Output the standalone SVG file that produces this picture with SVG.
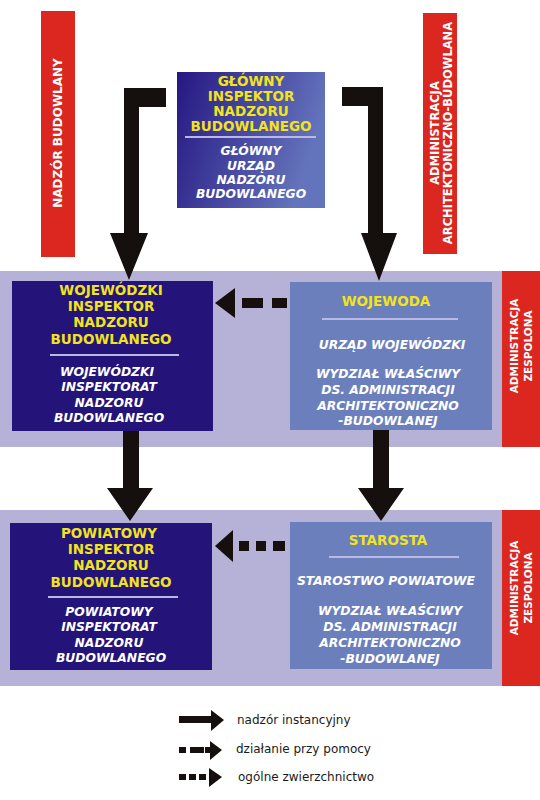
<svg xmlns="http://www.w3.org/2000/svg" width="540" height="800" viewBox="0 0 540 800">
<defs>
<linearGradient id="gin" x1="0" y1="0" x2="1" y2="0.3">
<stop offset="0" stop-color="#261782"/>
<stop offset="1" stop-color="#6474bc"/>
</linearGradient>
<style>
.red{fill:#db2720}
.band{fill:#b6b2d7}
.dark{fill:#24147a}
.mid{fill:#6b7fbd}
.y{font-family:"DejaVu Sans","Verdana",sans-serif;font-weight:bold;font-size:13.5px;fill:#f2e41c;text-anchor:middle}
.w{font-family:"DejaVu Sans","Verdana",sans-serif;font-weight:bold;font-style:italic;font-size:12.3px;fill:#ffffff;text-anchor:middle}
.rt{font-family:"DejaVu Sans","Verdana",sans-serif;font-weight:bold;fill:#ffffff;text-anchor:middle}
.sep{stroke:#b9b9e2;stroke-width:2}
.blk{fill:#15100e}
.leg{font-family:"DejaVu Sans","Verdana",sans-serif;font-size:12px;fill:#1a1a1a}
</style>
</defs>
<rect width="540" height="800" fill="#ffffff"/>

<g id="bands">
<rect class="band" x="0" y="271" width="502" height="176"/>
<rect class="band" x="0" y="510" width="502" height="176"/>
</g>

<g id="label-nadzor">
<rect class="red" x="41" y="11" width="34" height="246"/>
<text class="rt" font-size="12" transform="translate(62,133) rotate(-90)">NADZÓR BUDOWLANY</text>
</g>

<g id="label-aab">
<rect class="red" x="423" y="13" width="34" height="241"/>
<text class="rt" font-size="11.5" transform="translate(439,133) rotate(-90)">ADMINISTRACJA</text>
<text class="rt" font-size="11.5" transform="translate(452,133) rotate(-90)">ARCHITEKTONICZNO-BUDOWLANA</text>
</g>

<g id="label-zesp1">
<rect class="red" x="502" y="271" width="38" height="176"/>
<text class="rt" font-size="10.5" transform="translate(518,346) rotate(-90)">ADMINISTRACJA</text>
<text class="rt" font-size="10.5" transform="translate(532,346) rotate(-90)">ZESPOLONA</text>
</g>

<g id="label-zesp2">
<rect class="red" x="502" y="510" width="38" height="176"/>
<text class="rt" font-size="10.5" transform="translate(518,588) rotate(-90)">ADMINISTRACJA</text>
<text class="rt" font-size="10.5" transform="translate(532,588) rotate(-90)">ZESPOLONA</text>
</g>

<g id="gin">
<rect x="177" y="72" width="148" height="136" fill="url(#gin)"/>
<text class="y" x="251" y="86">GŁÓWNY</text>
<text class="y" x="251" y="101">INSPEKTOR</text>
<text class="y" x="251" y="116">NADZORU</text>
<text class="y" x="251" y="131">BUDOWLANEGO</text>
<line class="sep" x1="185" y1="137" x2="316" y2="137"/>
<text class="w" x="251" y="155">GŁÓWNY</text>
<text class="w" x="251" y="170">URZĄD</text>
<text class="w" x="251" y="184">NADZORU</text>
<text class="w" x="251" y="198">BUDOWLANEGO</text>
</g>

<g id="win">
<rect class="dark" x="12" y="281" width="201" height="150"/>
<text class="y" x="111" y="295">WOJEWÓDZKI</text>
<text class="y" x="111" y="311">INSPEKTOR</text>
<text class="y" x="111" y="327">NADZORU</text>
<text class="y" x="111" y="344">BUDOWLANEGO</text>
<line class="sep" x1="50" y1="355" x2="179" y2="355"/>
<text class="w" x="107" y="376">WOJEWÓDZKI</text>
<text class="w" x="109" y="391">INSPEKTORAT</text>
<text class="w" x="109" y="407">NADZORU</text>
<text class="w" x="109" y="422">BUDOWLANEGO</text>
</g>

<g id="wojewoda">
<rect class="mid" x="290" y="282" width="202" height="148"/>
<text class="y" x="386" y="306">WOJEWODA</text>
<line class="sep" x1="322" y1="319" x2="458" y2="319"/>
<text class="w" x="392" y="349">URZĄD WOJEWÓDZKI</text>
<text class="w" x="388" y="378">WYDZIAŁ WŁAŚCIWY</text>
<text class="w" x="388" y="394">DS. ADMINISTRACJI</text>
<text class="w" x="388" y="410">ARCHITEKTONICZNO</text>
<text class="w" x="388" y="425">-BUDOWLANEJ</text>
</g>

<g id="pin">
<rect class="dark" x="10" y="523" width="202" height="147"/>
<text class="y" x="109" y="538">POWIATOWY</text>
<text class="y" x="111" y="554">INSPEKTOR</text>
<text class="y" x="111" y="570">NADZORU</text>
<text class="y" x="111" y="587">BUDOWLANEGO</text>
<line class="sep" x1="48" y1="597" x2="178" y2="597"/>
<text class="w" x="109" y="616">POWIATOWY</text>
<text class="w" x="109" y="631">INSPEKTORAT</text>
<text class="w" x="109" y="647">NADZORU</text>
<text class="w" x="111" y="662">BUDOWLANEGO</text>
</g>

<g id="starosta">
<rect class="mid" x="290" y="522" width="202" height="147"/>
<text class="y" x="388" y="545">STAROSTA</text>
<line class="sep" x1="329" y1="557" x2="459" y2="557"/>
<text class="w" x="386" y="585">STAROSTWO POWIATOWE</text>
<text class="w" x="390" y="615">WYDZIAŁ WŁAŚCIWY</text>
<text class="w" x="390" y="631">DS. ADMINISTRACJI</text>
<text class="w" x="390" y="647">ARCHITEKTONICZNO</text>
<text class="w" x="390" y="663">-BUDOWLANEJ</text>
</g>

<g id="connectors">
<path class="blk" d="M124,88 H166 V107 H139 V233 H148 L129,280 L110,233 H124 Z"/>
<path class="blk" d="M342,87 H383 V233 H397 L379,281 L361,233 H368 V106 H342 Z"/>
<path class="blk" d="M123,431 H139 V488 H153 L130,521 L107,488 H123 Z"/>
<path class="blk" d="M373,430 H389 V488 H404 L381,521 L358,488 H373 Z"/>
<polygon class="blk" points="215,303 235,288 235,318"/>
<rect class="blk" x="242" y="298" width="21" height="10"/>
<rect class="blk" x="272" y="298" width="15" height="10"/>
<polygon class="blk" points="215,546 233,530 233,562"/>
<rect class="blk" x="239" y="541" width="10" height="10"/>
<rect class="blk" x="256" y="541" width="10" height="10"/>
<rect class="blk" x="273" y="541" width="12" height="10"/>
</g>

<g id="legend">
<rect class="blk" x="179" y="716" width="36" height="7"/>
<polygon class="blk" points="224,720 211,710 211,731"/>
<text class="leg" x="237" y="724">nadzór instancyjny</text>
<rect class="blk" x="179" y="747" width="7" height="6"/>
<rect class="blk" x="190" y="747" width="14" height="6"/>
<rect class="blk" x="205" y="747" width="7" height="6"/>
<polygon class="blk" points="222,750 210,741 210,760"/>
<text class="leg" x="236" y="753">działanie przy pomocy</text>
<rect class="blk" x="179" y="774" width="7" height="6"/>
<rect class="blk" x="189" y="774" width="7" height="6"/>
<rect class="blk" x="199" y="774" width="7" height="6"/>
<polygon class="blk" points="222,777 209,768 209,787"/>
<text class="leg" x="238" y="781">ogólne zwierzchnictwo</text>
</g>
</svg>
